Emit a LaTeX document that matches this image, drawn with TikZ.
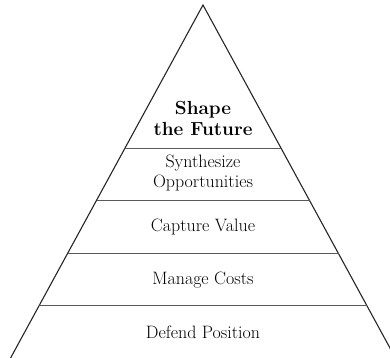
\documentclass[tikz,border=0pt]{standalone}
\begin{document}
\begin{tikzpicture}[x=1bp,y=-1bp,
  edge/.style={line width=1.1bp,black!85},
  tier/.style={line width=1.4bp,black!65},
  lbl/.style={align=center,inner sep=0pt,font=\fontsize{18}{20}\selectfont,text=black}]
\useasboundingbox (0,0) rectangle (390,358);
\clip (0,0) rectangle (390,358);
\coordinate (apex) at (203,5);
\coordinate (bl) at (8.4,362);
\coordinate (br) at (397.6,362);
\draw[edge,line join=miter] (bl) -- (apex) -- (br);
\coordinate (l1) at (124.8,148.5);   \coordinate (r1) at (281.2,148.5);
\coordinate (l2) at (96.5,200.5);  \coordinate (r2) at (309.5,200.5);
\coordinate (l3) at (67.5,253.5);    \coordinate (r3) at (338.5,253.5);
\coordinate (l4) at (39.2,305.5);  \coordinate (r4) at (366.8,305.5);
\draw[tier] (l1) -- (r1);
\draw[tier] (l2) -- (r2);
\draw[tier] (l3) -- (r3);
\draw[tier] (l4) -- (r4);
\node[lbl,font=\fontsize{19}{21}\selectfont\bfseries] (shape) at (203,118) {Shape\\the Future};
\node[lbl] (synth) at (203,173) {Synthesize\\Opportunities};
\node[lbl] (capture) at (203,227) {Capture Value};
\node[lbl] (manage) at (203,280) {Manage Costs};
\node[lbl] (defend) at (203,332) {Defend Position};
\end{tikzpicture}
\end{document}
